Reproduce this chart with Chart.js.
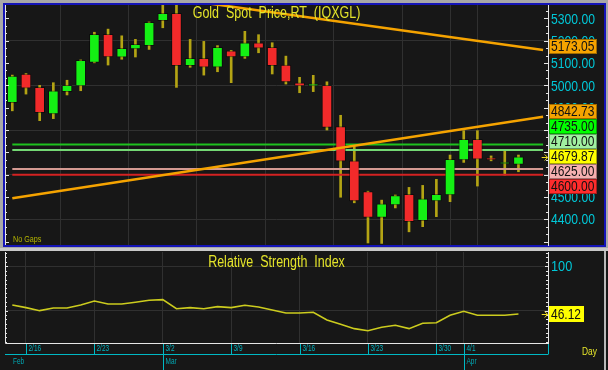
<!DOCTYPE html>
<html><head><meta charset="utf-8">
<script src="https://cdn.jsdelivr.net/npm/chart.js@4.4.1/dist/chart.umd.min.js"></script>
<style>
html,body{margin:0;padding:0;background:#171717;}
#wrap{position:relative;width:608px;height:370px;overflow:hidden;}
#c1{position:absolute;left:0;top:0;}
#c2{position:absolute;left:0;top:248px;}
</style></head><body>
<div id="wrap"><canvas id="c1" width="608" height="248"></canvas><canvas id="c2" width="608" height="122"></canvas></div>
<script>
// ---------- data ----------
const dates = ['2/13','2/16','2/17','2/18','2/19','2/20','2/23','2/24','2/25','2/26','2/27','3/2','3/3','3/4','3/5','3/6','3/9','3/10','3/11','3/12','3/13','3/16','3/17','3/18','3/19','3/20','3/23','3/24','3/25','3/26','3/27','3/30','3/31','4/1','4/2','4/3','4/6','4/7'];
const opens  = [4922,5051,4991,4872,4972,4997,5103,5229,5126,5163,5178,5290,5323,5088,5121,5082,5155,5127,5191,5170,5091,5011,4998,5000,4815,4662,4524,4409,4464,4512,4394,4482,4509,4666,4758,4673,4648,4646];
const highs  = [5046,5053,5000,5012,5023,5114,5238,5252,5222,5206,5284,5362,5362,5206,5197,5178,5157,5242,5227,5191,5131,5036,5045,5016,4866,4725,4526,4486,4509,4543,4552,4579,4688,4797,4797,4684,4706,4688];
const lows   = [4886,4961,4842,4851,4957,4976,5101,5091,5117,5127,5161,5258,4991,5081,5046,5061,5012,5121,5146,5051,5006,4967,4972,4800,4499,4474,4294,4292,4451,4344,4367,4412,4479,4655,4549,4662,4598,4613];
const closes = [5042,4987,4878,4976,5000,5112,5229,5128,5166,5184,5282,5323,5088,5121,5082,5170,5128,5191,5167,5088,5016,4997,5000,4812,4661,4483,4409,4469,4506,4389,4492,4512,4669,4758,4670,4666,4651,4679.87];
const rsi    = [56.3,53.3,49.9,52.9,52.9,56.3,60.8,57.4,57.4,59.4,61.6,62.3,52.1,53.3,52.1,54.4,53.3,56.0,54.1,50.7,47.3,47.3,48.1,39.4,34.5,29.6,27.3,31.2,33.4,29.6,35.7,36.3,44.7,49.2,44.7,44.7,44.7,46.12];
const priceTicks = [4400,4500,4600,4700,4800,4900,5000,5100,5200,5300];
const rsiTicks = [50,100];
const dateTicks = ['2/16','2/23','3/2','3/9','3/16','3/23','3/30','4/1'];
const months = ['Feb','Mar','Apr'];
const monthStarts = [null,'3/2','4/1'];
const levelValues = [4735,4710,4625,4600];
const levelLineColors = ['#1ec21e','#74d874','#d49a92','#d42222'];
const levelBoxColors  = ['#00ff00','#a0f0a0','#f6b0b0','#ff2c2c'];
const trendDownPts = [{x:12,y:5387},{x:38.8,y:5158}];
const trendUpPts   = [{x:0,y:4494},{x:38.8,y:4859}];
const trendLabels  = [5173.05,4842.73];
const lastPrice = 4679.87;
const lastRsi = 46.12;
const titleTop = 'Gold  Spot  Price,RT  (IQXGL)';
const titleBottom = 'Relative  Strength  Index';

// ---------- styles ----------
const FN = "'Liberation Sans',Arial,sans-serif";
const BG = '#171717', GRID = '#303030', CYAN = '#00c8d8', YEL = '#e4e42a';
const GREEN = '#14f014', RED = '#f22a2a', WICK = '#b4a414', ORANGE = '#f5a300';
const X_MIN = -0.534, X_MAX = 39.16;

function idx(d){ return dates.indexOf(d); }
function nText(ctx, text, x, y, size, color, align, sx){
  ctx.save();
  ctx.font = size + 'px ' + FN; ctx.fillStyle = color;
  ctx.textAlign = align || 'left'; ctx.textBaseline = 'middle';
  ctx.translate(x, y); ctx.scale(sx || 0.82, 1);
  ctx.fillText(text, 0, 0);
  ctx.restore();
}
function xScaleOpts(h){
  return {type:'linear', min:X_MIN, max:X_MAX, offset:false,
    grid:{color:GRID, drawTicks:false}, border:{display:false}, ticks:{display:false},
    afterBuildTicks:s=>{ s.ticks = dateTicks.map(d=>({value:idx(d)})); },
    afterFit:s=>{ s.height = h; }};
}
function box(ctx, x, yc, w, h, bg, text){
  const top = Math.round(yc - h/2);
  ctx.fillStyle = bg; ctx.fillRect(x, top, w, h);
  ctx.strokeStyle = 'rgba(0,0,0,0.35)'; ctx.lineWidth = 1;
  ctx.strokeRect(x+0.5, top+0.5, w-1, h-1);
  nText(ctx, text, x+2, top + h/2 + 0.5, 15, '#111', 'left', 0.8);
}
function arrow(ctx, x, y){
  ctx.strokeStyle = '#f0e020'; ctx.lineWidth = 1;
  ctx.beginPath(); ctx.moveTo(x, y+0.5); ctx.lineTo(x+6, y+0.5);
  ctx.moveTo(x+3, y-2.5); ctx.lineTo(x+6, y+0.5); ctx.lineTo(x+3, y+3.5); ctx.stroke();
}
function vTicks(ctx, scale, x, dir, step, major, len, majLen){
  ctx.strokeStyle = '#e6e6e6'; ctx.lineWidth = 1;
  const n0 = Math.ceil(scale.min/step), n1 = Math.floor(scale.max/step);
  ctx.beginPath();
  for(let n=n0;n<=n1;n++){
    const v = n*step;
    const y = Math.round(scale.getPixelForValue(v)) + 0.5;
    const isMaj = Math.abs(v/major - Math.round(v/major)) < 1e-6;
    ctx.moveTo(x, y); ctx.lineTo(x + dir*(isMaj?majLen:len), y);
  }
  ctx.stroke();
}

// ---------- top chart ----------
const topDeco = {
  id:'topDeco',
  beforeDraw(chart){
    const c = chart.ctx;
    c.save();
    c.fillStyle = '#a8a8a8'; c.fillRect(0,0,608,248);
    c.fillStyle = '#1414b8'; c.fillRect(3,3,603,244);
    c.fillStyle = BG; c.fillRect(5,5,599,240);
    c.restore();
  },
  afterDraw(chart){
    const c = chart.ctx, a = chart.chartArea, ys = chart.scales.y, xs = chart.scales.x;
    c.save();
    c.strokeStyle = '#e6e6e6'; c.lineWidth = 1;
    c.beginPath(); c.moveTo(a.left+0.5, a.top); c.lineTo(a.left+0.5, a.bottom); c.stroke();
    vTicks(c, ys, a.left, 1, 100/3, 100, 2, 4);
    vTicks(c, ys, a.right, -1, 100/3, 100, 2, 4);
    // tick labels
    priceTicks.forEach(v=>nText(c, v.toFixed(2), a.right + 3, ys.getPixelForValue(v) + 1, 15, CYAN, 'left', 0.81));
    // title
    nText(c, titleTop, (a.left+a.right)/2, a.top + 9, 16, YEL, 'center', 0.78);
    nText(c, 'No Gaps', a.left + 8, a.bottom - 5, 9, '#b4b400', 'left', 0.8);
    // right-side value boxes
    const bx = a.right + 1, bw = 48, bh = 15;
    box(c, bx, ys.getPixelForValue(trendLabels[0]), bw, bh, ORANGE, trendLabels[0].toFixed(2));
    const items = [{v:trendLabels[1], bg:ORANGE}];
    levelValues.forEach((v,i)=>items.push({v, bg:levelBoxColors[i]}));
    items.push({v:lastPrice, bg:'#ffff00', last:true});
    items.sort((p,q)=>q.v-p.v);
    items.forEach(it=>it.y = ys.getPixelForValue(it.v));
    const k = items.findIndex(it=>it.last);
    for(let i=k-1;i>=0;i--) items[i].y = Math.min(items[i].y, items[i+1].y - bh);
    for(let i=k+1;i<items.length;i++) items[i].y = Math.max(items[i].y, items[i-1].y + bh);
    items.forEach(it=>box(c, bx, it.y, bw, bh, it.bg, it.v.toFixed(2)));
    arrow(c, xs.getPixelForValue(38.7), Math.round(ys.getPixelForValue(lastPrice)));
    c.restore();
  }
};

const levelSets = levelValues.map((v,i)=>({
  type:'line', data:[{x:0,y:v},{x:38.8,y:v}], borderColor:levelLineColors[i], borderWidth:2,
  pointRadius:0, order:8
}));

new Chart(document.getElementById('c1'), {
  type:'bar',
  data:{datasets:[
    {type:'bar', data:dates.map((d,i)=>({x:i,y:[lows[i],highs[i]]})), backgroundColor:WICK,
      barThickness:2, grouped:false, order:10},
    ...levelSets,
    {type:'bar', data:dates.map((d,i)=>({x:i,y:[opens[i],closes[i]]})),
      backgroundColor:dates.map((d,i)=>closes[i]>=opens[i]?GREEN:RED),
      borderColor:'rgba(0,0,0,0.45)', borderWidth:1, borderSkipped:false,
      barThickness:10, minBarLength:2, grouped:false, order:5},
    {type:'line', data:trendDownPts, borderColor:ORANGE, borderWidth:2.5, pointRadius:0, order:1},
    {type:'line', data:trendUpPts, borderColor:ORANGE, borderWidth:2.5, pointRadius:0, order:1}
  ]},
  options:{
    responsive:false, animation:false, devicePixelRatio:1,
    layout:{padding:{left:5,top:5,right:4,bottom:3}},
    plugins:{legend:{display:false}, tooltip:{enabled:false}},
    scales:{
      x:xScaleOpts(0),
      y:{position:'right', min:4285, max:5360,
        grid:{color:c=>(c.tick && c.tick.value%200===0)?GRID:'rgba(0,0,0,0)', drawTicks:false},
        border:{color:'#e6e6e6'},
        ticks:{display:false},
        afterBuildTicks:s=>{ s.ticks = priceTicks.map(v=>({value:v})); },
        afterFit:s=>{ s.width = 56; }}
    }
  },
  plugins:[topDeco]
});

// ---------- bottom chart ----------
const botDeco = {
  id:'botDeco',
  beforeDraw(chart){
    const c = chart.ctx;
    c.save();
    c.fillStyle = BG; c.fillRect(0,0,608,122);
    c.fillStyle = '#c8c8c8'; c.fillRect(0,0,608,3);
    c.fillStyle = '#b8b8b8'; c.fillRect(604,3,2,119);
    c.restore();
  },
  afterDraw(chart){
    const c = chart.ctx, a = chart.chartArea, ys = chart.scales.y, xs = chart.scales.x;
    c.save();
    c.strokeStyle = '#e6e6e6'; c.lineWidth = 1;
    c.beginPath();
    c.moveTo(a.left+0.5, a.top); c.lineTo(a.left+0.5, a.bottom+0.5);
    c.lineTo(a.right, a.bottom+0.5);
    c.stroke();
    vTicks(c, ys, a.left, 1, 5, 50, 2, 3);
    vTicks(c, ys, a.right, -1, 5, 50, 2, 3);
    rsiTicks.forEach(v=>nText(c, String(v), a.right + 3, ys.getPixelForValue(v) + 1, 15, CYAN, 'left', 0.85));
    nText(c, titleBottom, (a.left+a.right)/2, a.top + 11, 16, YEL, 'center', 0.78);
    const ry = Math.round(ys.getPixelForValue(lastRsi));
    c.fillStyle = '#ffff00'; c.fillRect(a.right+1, ry-8, 35, 16);
    nText(c, lastRsi.toFixed(2), a.right+3, ry+1, 15, '#111', 'left', 0.8);
    arrow(c, xs.getPixelForValue(38.7), ry);
    // date axis
    const y0 = a.bottom + 1, yMid = a.bottom + 11.5, yEnd = chart.height;
    c.strokeStyle = '#00b8c4'; c.lineWidth = 1;
    c.beginPath(); c.moveTo(a.left, yMid); c.lineTo(a.right, yMid); c.stroke();
    dateTicks.forEach(d=>{
      const x = Math.round(xs.getPixelForValue(idx(d))) + 0.5;
      c.beginPath(); c.moveTo(x, y0); c.lineTo(x, yMid); c.stroke();
      nText(c, d, x+2, y0+5, 9, '#00b4c0', 'left', 0.72);
    });
    c.beginPath(); c.moveTo(a.right+0.5, y0); c.lineTo(a.right+0.5, yMid); c.stroke();
    months.forEach((m,i)=>{
      let x;
      if(monthStarts[i]===null){ x = a.left + 6; }
      else {
        x = Math.round(xs.getPixelForValue(idx(monthStarts[i]))) + 0.5;
        c.beginPath(); c.moveTo(x, y0); c.lineTo(x, yEnd); c.stroke();
      }
      nText(c, m, x+2, yMid + 7, 9, '#00a8b4', 'left', 0.72);
    });
    nText(c, 'Day', 582, yMid - 3, 11.5, YEL, 'left', 0.73);
    c.restore();
  }
};

new Chart(document.getElementById('c2'), {
  type:'line',
  data:{datasets:[{data:rsi.map((v,i)=>({x:i,y:v})), borderColor:'#cccc1e', borderWidth:1.6,
    pointRadius:0, tension:0}]},
  options:{
    responsive:false, animation:false, devicePixelRatio:1,
    layout:{padding:{left:5,top:4,right:4,bottom:0}},
    plugins:{legend:{display:false}, tooltip:{enabled:false}},
    scales:{
      x:xScaleOpts(27),
      y:{position:'right', min:13.4, max:116.1,
        grid:{color:GRID, drawTicks:false}, border:{color:'#e6e6e6'},
        ticks:{display:false},
        afterBuildTicks:s=>{ s.ticks = rsiTicks.map(v=>({value:v})); },
        afterFit:s=>{ s.width = 56; }}
    }
  },
  plugins:[botDeco]
});
</script>
</body></html>
